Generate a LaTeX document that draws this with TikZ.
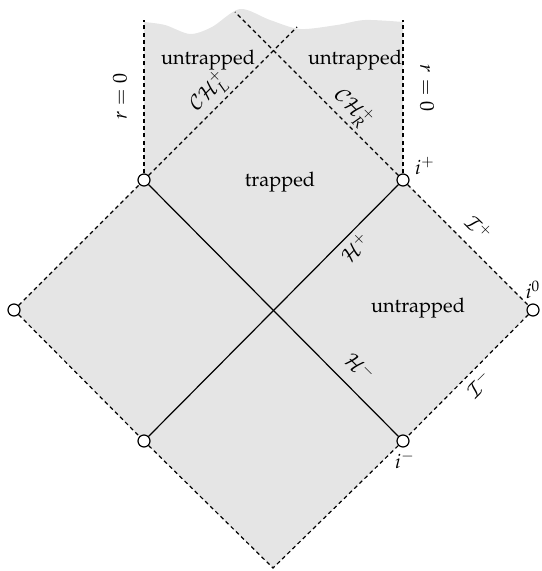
\documentclass[tikz,border=0pt]{standalone}
\usepackage[T1]{fontenc}
\usepackage{mathpazo}
\begin{document}
\begin{tikzpicture}[x=0.5pt,y=-0.5pt,
  dashline/.style={dash pattern=on 2pt off 1.6pt, line width=0.6pt},
  solidline/.style={line width=0.6pt},
  vtx/.style={circle, draw, fill=white, line width=0.6pt, minimum size=6pt, inner sep=0pt}]
\useasboundingbox (0,0) rectangle (541,571);
\fill[black!10] (14,310) -- (144,180) -- (144,22) -- plot[smooth] coordinates {(144,22) (165,25) (190,34) (212,27) (240,9) (270,20) (300,29) (337,25) (365,20) (403,22)} -- (403,180) -- (533,310) -- (403,441) -- (273,568) -- (144,441) -- cycle;
\node[vtx] (L) at (14,310) {};
\node[vtx] (TL) at (144,180) {};
\node[vtx] (TR) at (403,180) {};
\node[vtx] (R) at (533,310) {};
\node[vtx] (BL) at (144,441) {};
\node[vtx] (BR) at (403,441) {};
\coordinate (B) at (273,568);
\coordinate (TLtop) at (144,20);
\coordinate (TRtop) at (403,20);
\coordinate (CHLend) at (297,27);
\coordinate (CHRend) at (235,12);
\draw[solidline] (TL) -- (BR);
\draw[solidline] (BL) -- (TR);
\draw[dashline] (L) -- (TL);
\draw[dashline] (L) -- (BL);
\draw[dashline] (TR) -- (R);
\draw[dashline] (R) -- (BR);
\draw[dashline] (BL) -- (B) -- (BR);
\draw[dashline] (TL) -- (TLtop);
\draw[dashline] (TR) -- (TRtop);
\draw[dashline] (TL) -- (CHLend);
\draw[dashline] (TR) -- (CHRend);
\node (u1) at (208,60) {untrapped};
\node (u2) at (355,60) {untrapped};
\node (tr) at (280,182) {trapped};
\node (u3) at (418,308) {untrapped};
\node[rotate=90] (r1) at (120,97) {$r=0$};
\node[rotate=-90] (r2) at (427,88) {$r=0$};
\node[rotate=45] (chl) at (209,92) {$\mathcal{CH}_L^+$};
\node[rotate=-45] (chr) at (353,108) {$\mathcal{CH}_R^+$};
\node[rotate=45] (hp) at (355,248) {$\mathcal{H}^+$};
\node[rotate=-45] (hm) at (360,367) {$\mathcal{H}^-$};
\node[rotate=-45] (ip) at (479,228) {$\mathcal{I}^+$};
\node[rotate=45] (im) at (479,384) {$\mathcal{I}^-$};
\node (iplus) at (425,166) {$i^+$};
\node (izero) at (533,290) {$i^0$};
\node (iminus) at (405,460) {$i^-$};
\end{tikzpicture}
\end{document}
